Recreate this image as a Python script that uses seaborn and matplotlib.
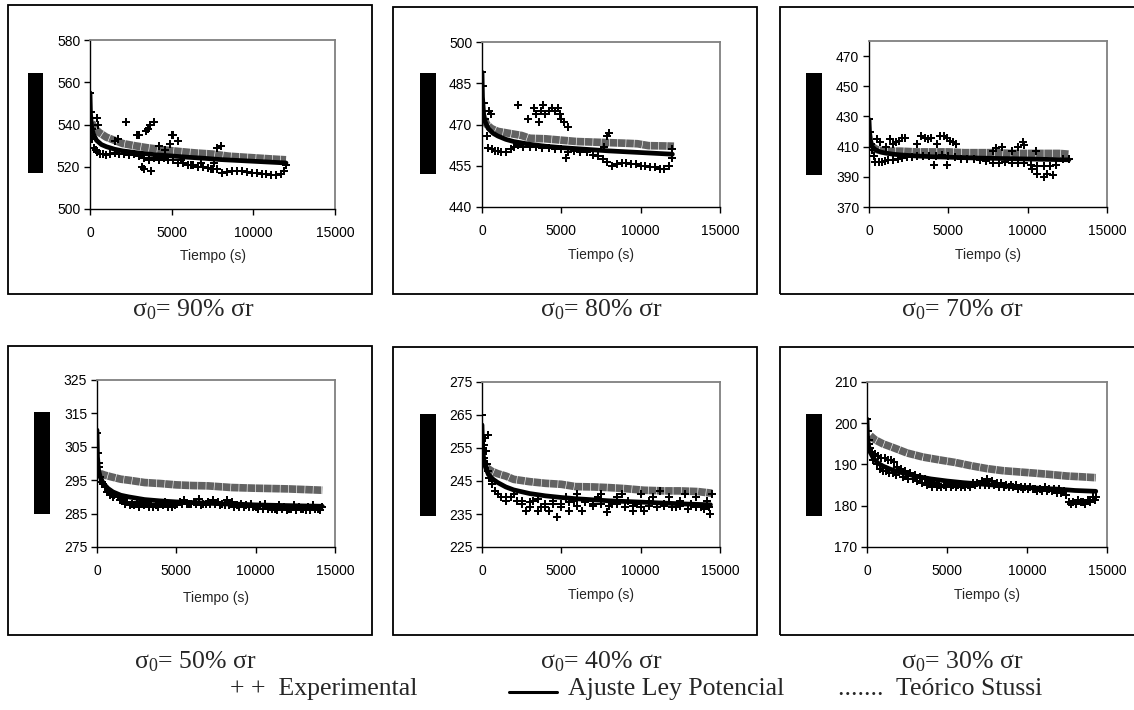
import matplotlib
matplotlib.use("Agg")
import matplotlib.pyplot as plt
from matplotlib.patches import Rectangle
from matplotlib.lines import Line2D
import seaborn as sns

# ---------------- data ----------------
captions = ["90%", "80%", "70%", "50%", "40%", "30%"]
x_ticks = [0, 5000, 10000, 15000]
y_limits = [(500, 580), (440, 500), (370, 480), (275, 325), (225, 275), (170, 210)]
y_ticks = [
    [500, 520, 540, 560, 580],
    [440, 455, 470, 485, 500],
    [370, 390, 410, 430, 450, 470],
    [275, 285, 295, 305, 315, 325],
    [225, 235, 245, 255, 265, 275],
    [170, 180, 190, 200, 210],
]

# --- 90% ---
t_fit_90 = [0, 30, 100, 200, 400, 700, 1000, 1500, 2000, 3000, 4000, 5000, 6000, 7000, 8000, 9000, 10000, 11000, 12000]
y_fit_90 = [555, 545, 539, 535.5, 532.5, 530.5, 529.5, 528.3, 527.5, 526.5, 525.7, 525.1, 524.5, 524, 523.4, 523, 522.6, 522.2, 521.8]
t_teo_90 = [100, 300, 600, 1000, 1500, 2000, 2700, 3500, 4500, 5500, 6500, 7500, 8500, 9500, 10500, 11500, 12000]
y_teo_90 = [541, 538, 536, 534, 532.5, 531, 530, 529, 528, 527.2, 526.5, 526, 525, 524.5, 524, 523.5, 523.3]
t_exp_90 = [0, 50, 100, 150, 250, 350, 450, 600, 800, 1000, 1200, 1500, 1800, 2100, 2400, 2700, 3000, 3300, 3600, 3900,
            4200, 4500, 4800, 5100, 5400, 5700, 6000, 6300, 6600, 6900, 7200, 7500, 7800, 8100, 8400, 8700, 9000, 9300,
            9600, 9900, 10200, 10500, 10800, 11100, 11400, 11700, 11900, 12000,
            400, 500, 1500, 1700, 2200, 2900, 3000, 3200, 3300, 3450, 3550, 3650, 3750, 3900, 4200, 4600, 4900, 5000,
            5100, 5400, 7400, 7600, 7800, 8000, 5600, 6200, 6800]
y_exp_90 = [555, 546, 538, 533, 529, 528, 527, 526, 526, 525.5, 526, 526.5, 526, 526, 525.5, 526, 525, 524, 523, 524,
            523, 524, 523, 523, 522, 522, 521, 521, 520, 520, 519.5, 519, 519, 517, 517.5, 518, 518, 518,
            517.5, 517, 517, 516.5, 516.5, 516, 516, 516.5, 518, 521,
            543, 540, 532, 533, 541, 535, 535, 520, 519, 537, 538, 540, 518, 541, 530, 528, 531, 535,
            535, 532, 519, 522, 529, 530, 523, 521, 522]

# --- 80% ---
t_fit_80 = [0, 30, 100, 200, 400, 700, 1000, 1500, 2000, 3000, 4000, 5000, 6000, 7000, 8000, 9000, 10000, 11000, 12000]
y_fit_80 = [489, 480, 474, 471, 468.5, 466.8, 465.8, 464.6, 463.8, 462.8, 462.1, 461.6, 461.2, 460.8, 460.4, 460.1, 459.8, 459.5, 459.2]
t_teo_80 = [150, 300, 600, 1000, 1500, 2000, 2500, 3000, 4000, 5000, 6000, 7000, 8000, 9000, 9800, 10500, 11500, 12100]
y_teo_80 = [472, 470, 468.5, 467.5, 467, 466.5, 466, 465, 464.8, 464.3, 463.8, 463.6, 463.4, 463.2, 463, 462.3, 462.2, 462.1]
t_exp_80 = [0, 50, 100, 200, 300, 400, 600, 800, 1000, 1200, 1500, 1800, 2000, 2300, 2600, 3000, 3400, 3800, 4200,
            4600, 5000, 5400, 5800, 6200, 6600, 7000, 7300, 7600, 7900, 8200, 8500, 8800, 9100, 9400, 9700, 10000,
            10300, 10600, 10900, 11200, 11500, 11800, 12000,
            450, 550, 2300, 2900, 3300, 3400, 3600, 3700, 3850, 4000, 4200, 4400, 4600, 4800, 4900, 5000, 5150,
            5400, 5300, 7850, 8000, 7700, 12000]
y_exp_80 = [489, 484, 478, 472, 466, 461.5, 461, 460.5, 460.5, 460, 460, 461, 462, 462.5, 462, 462, 462, 461.5, 461.5,
            461, 461, 460, 460.5, 460, 460, 459, 458.5, 457.5, 456.5, 455, 455.5, 456, 456, 455.5, 455.5, 455,
            455, 454.5, 454.5, 454, 454, 455, 458,
            475, 474, 477, 472, 476, 474, 471, 475, 477, 474, 475, 476, 475, 476, 474, 472, 471,
            469, 458, 466, 467, 462, 461]

# --- 70% ---
t_fit_70 = [0, 30, 100, 200, 400, 700, 1000, 1500, 2000, 3000, 4000, 5000, 6000, 7000, 8000, 9000, 10000, 11000, 12000, 12600]
y_fit_70 = [428, 420, 414, 410, 408, 406.5, 405.8, 405, 404.5, 403.8, 403.3, 403, 402.7, 402.4, 402.2, 402, 401.8, 401.6, 401.4, 401.3]
t_teo_70 = [200, 500, 1000, 2000, 3000, 4000, 5000, 6000, 7000, 8000, 9000, 10000, 11000, 12000, 12600]
y_teo_70 = [410, 408, 407, 407, 406.5, 406.5, 406.5, 406, 406, 406, 405.5, 405.5, 405.5, 405.5, 405]
t_exp_70 = [0, 50, 100, 200, 300, 400, 600, 800, 1000, 1200, 1500, 1800, 2100, 2400, 2700, 3000, 3400, 3800, 4200,
            4600, 5000, 5400, 5800, 6200, 6600, 7000, 7400, 7800, 8200, 8600, 9000, 9400, 9800, 10200, 10600,
            11000, 11400, 11800, 12200, 12600,
            500, 700, 1100, 1300, 1500, 1700, 1900, 2100, 2300, 3000, 3300, 3500, 3700, 3900, 4100, 4300, 4500,
            4700, 4900, 5100, 5300, 4900, 5500, 7800, 8000, 8400, 9000, 9400, 9700, 9800, 10600, 11000, 11200,
            11600, 10300, 10500]
y_exp_70 = [428, 420, 412, 408, 404, 400, 400, 400, 400.5, 401, 401, 402, 402.5, 403, 403, 403.5, 404, 404, 404,
            404.5, 404, 403, 402, 402, 401.5, 401, 400.5, 399, 399, 399.5, 399, 399, 399, 398, 397,
            397, 397.5, 398, 402, 402,
            415, 413, 410, 415, 412, 413, 414, 416, 416, 412, 417, 416, 415, 416, 398, 412, 417,
            417, 416, 414, 413, 398, 412, 407, 409, 410, 407, 410, 413, 411, 392, 390, 392,
            391, 395, 407]

# --- 50% ---
t_fit_50 = [0, 30, 100, 200, 400, 700, 1000, 1500, 2000, 3000, 4000, 5000, 6000, 7000, 8000, 9000, 10000, 11000, 12000, 13000, 14200]
y_fit_50 = [310, 302, 298, 296, 294, 292.5, 291.5, 290.5, 290, 289.2, 288.8, 288.5, 288.3, 288.1, 287.9, 287.8, 287.6, 287.5, 287.4, 287.3, 287.2]
t_teo_50 = [200, 500, 900, 1500, 2000, 3000, 4000, 5000, 6000, 7000, 8500, 10000, 12000, 14200]
y_teo_50 = [297, 296.5, 296, 295.3, 295, 294.3, 294, 293.6, 293.4, 293.3, 292.8, 292.6, 292.4, 292]
t_exp_50 = [0, 50, 100, 200, 300, 500, 700, 900, 1100, 1300, 1600, 1900, 2200, 2500, 2800, 3100, 3400, 3700, 4000,
            4300, 4600, 4900, 5200, 5500, 5800, 6100, 6400, 6700, 7000, 7300, 7600, 7900, 8200, 8500, 8800, 9100,
            9400, 9700, 10000, 10300, 10600, 10900, 11200, 11500, 11800, 12100, 12400, 12700, 13000, 13300, 13600,
            13900, 14200,
            150, 400, 600, 800, 1000, 1450, 1750, 2050, 2350, 2650, 2950, 3250, 3550, 3850, 4150, 4450, 4750, 5050,
            5350, 5650, 5950, 6250, 6550, 6850, 7150, 7450, 7750, 8050, 8350, 8650, 8950, 9250, 9550, 9850, 10150,
            10450, 10750, 11050, 11350, 11650, 11950, 12250, 12550, 12850, 13150, 13450, 13750, 14050]
y_exp_50 = [309, 303, 299, 296, 294.5, 293, 292, 291, 290.5, 290, 289.5, 288.5, 288, 288.5, 288, 288.5, 288, 287.5, 288,
            288.5, 288, 287.5, 288.5, 289, 288, 288.5, 289.5, 288, 288.5, 289, 288.5, 288, 289, 288.5, 287.5, 288,
            287.5, 288, 287, 287.5, 288, 287, 286.5, 287.5, 287, 286.5, 287.5, 287, 286.5, 287, 287.5,
            286.5, 287,
            300, 294, 291.5, 290.5, 290, 289, 288, 287.5, 287.5, 287, 287.5, 287, 287, 287, 287.5, 287, 287, 288,
            288, 288, 288, 288, 287.5, 288, 288, 288, 287.5, 287.5, 287.5, 287, 287, 287, 287, 287, 286.5,
            286.5, 286.5, 286.5, 286, 286.5, 286, 286.5, 286, 286.5, 286, 286, 286.5, 286]

# --- 40% ---
t_fit_40 = [0, 30, 100, 200, 400, 700, 1000, 1500, 2000, 3000, 4000, 5000, 6000, 7000, 8000, 9000, 10000, 11000, 12000, 13000, 14400]
y_fit_40 = [262, 256, 252, 249.5, 247, 245.5, 244.5, 243.2, 242.3, 241.2, 240.5, 240, 239.6, 239.3, 239, 238.8, 238.6, 238.4, 238.2, 238, 237.8]
t_teo_40 = [300, 600, 1000, 1500, 2000, 3000, 4000, 5000, 5900, 7000, 8000, 9000, 10200, 11500, 12500, 13600, 14500]
y_teo_40 = [249, 248, 247.2, 246.5, 245.5, 244.8, 244.3, 244, 243.3, 243.2, 243, 242.7, 242.2, 242, 242, 241.8, 241.3]
t_exp_40 = [0, 30, 60, 100, 150, 200, 300, 400, 500, 600, 800, 1000, 1200, 1500, 1800, 2000, 2200, 2500, 2800, 3000,
            3200, 3500, 3700, 4000, 4200, 4500, 4700, 5000, 5300, 5500, 5800, 6000, 6300, 6500, 7000, 7300, 7500,
            7900, 8200, 8500, 8800, 9200, 9500, 9800, 10000, 10200, 10500, 10800, 11200, 11500, 11800, 12200,
            12500, 12800, 13200, 13500, 13800, 14200, 14400, 14500,
            3000, 4000, 5000, 6000, 7000, 8000, 9000, 10000, 11000, 12000, 13000, 14000, 2500, 1500,
            3500, 4500, 5500, 6500, 7500, 8500, 9500, 10500, 11500, 12500, 13500, 14300, 250, 350, 450]
y_exp_40 = [265, 258, 255, 252, 256, 258, 250, 259, 246, 244, 242, 241, 240, 239, 240, 241, 239, 238, 236, 237,
            239, 236, 237, 237, 236, 238, 234, 237, 240, 236, 239, 241, 236, 239, 238, 240, 241,
            235.5, 238, 240, 241, 239, 236, 238, 241, 236, 239, 240, 242, 238, 240, 237,
            239, 241, 238, 240, 237, 239, 235, 241,
            238.5, 238, 238, 237.5, 237.5, 237.5, 237, 237, 237, 237, 236.5, 236.5, 239, 240,
            239.5, 239, 238.5, 238.5, 238, 238, 237.5, 237.5, 237.5, 237.5, 237, 237, 254, 248, 246]

# --- 30% ---
t_fit_30 = [0, 30, 100, 200, 400, 700, 1000, 1500, 2000, 3000, 4000, 5000, 6000, 7000, 8000, 9000, 10000, 11000, 12000, 13000, 14300]
y_fit_30 = [201, 197, 194.5, 193, 191.5, 190.3, 189.6, 188.8, 188.2, 187.2, 186.5, 186, 185.6, 185.3, 185, 184.7, 184.4, 184.2, 184, 183.7, 183.5]
t_teo_30 = [200, 500, 1000, 1700, 2500, 3500, 4700, 5500, 6500, 7500, 8500, 9500, 10500, 11400, 12500, 13500, 14300]
y_teo_30 = [197, 196, 195, 194, 192.8, 191.8, 191, 190.5, 189.7, 189, 188.5, 188.2, 187.9, 187.6, 187.2, 187, 186.8]
t_exp_30 = [0, 50, 100, 200, 300, 500, 700, 900, 1100, 1300, 1500, 1700, 1900, 2100, 2400, 2700, 3000, 3300, 3600,
            3900, 4200, 4500, 4800, 5100, 5400, 5700, 6000, 6300, 6600, 6900, 7200, 7500, 7800, 8100, 8400, 8700,
            9000, 9300, 9600, 9900, 10200, 10500, 10800, 11100, 11400, 11700, 12000, 12300, 12600, 12900, 13200,
            13500, 13800, 14100, 14300,
            150, 400, 600, 800, 1000, 1200, 1400, 1600, 1800, 2250, 2550, 2850, 3150, 3450, 3750, 4050, 4350, 4650,
            4950, 5250, 5550, 5850, 6150, 6450, 6750, 7050, 7350, 7650, 7950, 8250, 8550, 8850, 9150, 9450, 9750,
            10050, 10350, 10650, 10950, 11250, 11550, 11850, 12150, 12450, 12750, 13050, 13350, 13650, 13950, 14250]
y_exp_30 = [201, 198, 196, 194, 193, 192.5, 192, 191.5, 191.5, 191, 191, 190.5, 189.5, 189, 188.5, 188, 187.5, 187, 186.5,
            186, 185.5, 185, 185, 185.5, 185, 185, 185, 185, 185.5, 185.5, 186, 186.5, 186, 185.5, 185.5, 185,
            185, 185, 184.5, 184.5, 184.5, 184, 184, 184.5, 184, 184, 184, 183.5, 181, 181, 181.5,
            181, 181.5, 182, 182,
            195, 191, 190, 189, 188.5, 188.5, 188, 188, 187.5, 187, 186.5, 186.5, 186, 185.5, 185, 184.5, 184.5, 184.5,
            184.5, 184.5, 184.5, 184.5, 184.5, 184.5, 185, 185, 185, 185, 185, 184.5, 184.5, 184.5, 184.5, 184, 184,
            184, 184, 183.5, 183.5, 183.5, 183.5, 183, 183, 182.5, 180.5, 180.5, 181, 180.5, 181, 181.5]

series = [
    (t_exp_90, y_exp_90, t_fit_90, y_fit_90, t_teo_90, y_teo_90),
    (t_exp_80, y_exp_80, t_fit_80, y_fit_80, t_teo_80, y_teo_80),
    (t_exp_70, y_exp_70, t_fit_70, y_fit_70, t_teo_70, y_teo_70),
    (t_exp_50, y_exp_50, t_fit_50, y_fit_50, t_teo_50, y_teo_50),
    (t_exp_40, y_exp_40, t_fit_40, y_fit_40, t_teo_40, y_teo_40),
    (t_exp_30, y_exp_30, t_fit_30, y_fit_30, t_teo_30, y_teo_30),
]

# ---------------- style ----------------
sns.set_theme(style="white")
plt.rcParams["font.family"] = ["Liberation Sans", "DejaVu Sans"]
plt.rcParams["mathtext.fontset"] = "custom"
plt.rcParams["mathtext.rm"] = "Liberation Serif"
plt.rcParams["mathtext.it"] = "Liberation Serif:italic"

W, H = 1134, 710
fig = plt.figure(figsize=(W / 100, H / 100), dpi=100)


def fx(px):
    return px / W


def fy(py):
    return 1 - py / H


SERIF = ["Liberation Serif", "DejaVu Serif"]

# axes pixel boxes (left, top, right, bottom)
ax_px = [(90, 40, 335, 209), (482, 42, 720, 207), (869, 41, 1107, 207),
         (97, 380, 335, 547), (482, 382, 720, 547), (867, 382, 1107, 547)]
box_px = [(8, 5, 372, 294), (393, 7, 757, 294), (780, 7, 1145, 294),
          (8, 346, 372, 635), (393, 347, 757, 635), (780, 347, 1145, 635)]
bar_px = [(28, 73, 43, 173), (420, 73, 436, 174), (806, 73, 822, 175),
          (34, 412, 50, 514), (420, 414, 436, 516), (806, 414, 822, 516)]
caption_xy = [(193, 310), (601, 310), (962, 310), (195, 662), (601, 662), (962, 662)]
xlabel_pads = [6, 7, 7, 9, 7, 7]

for (l, t, r, b) in box_px:
    fig.patches.append(Rectangle((fx(l), fy(b)), fx(r - l), (b - t) / H, transform=fig.transFigure,
                                 fill=False, edgecolor="black", linewidth=1.3, zorder=0))
for (l, t, r, b) in bar_px:
    fig.patches.append(Rectangle((fx(l), fy(b)), fx(r - l), (b - t) / H, transform=fig.transFigure,
                                 facecolor="black", edgecolor="black", linewidth=0, zorder=1))

for i, (l, t, r, b) in enumerate(ax_px):
    ax = fig.add_axes([fx(l), fy(b), fx(r - l), (b - t) / H])
    te, ye, tf, yf, tt, yt = series[i]
    sns.lineplot(x=tt, y=yt, ax=ax, color="#626262", linewidth=5.5, estimator=None, sort=False,
                 linestyle=(0, (1.0, 0.08)), zorder=2)
    sns.lineplot(x=tf, y=yf, ax=ax, color="black", linewidth=3.4, estimator=None, sort=False, zorder=3)
    sns.scatterplot(x=te, y=ye, ax=ax, marker="P", s=30, color="black", linewidth=0, zorder=4)
    ax.set_xlim(0, 15000)
    ax.set_ylim(*y_limits[i])
    ax.set_xticks(x_ticks)
    ax.set_yticks(y_ticks[i])
    ax.set_xticklabels([str(v) for v in x_ticks])
    ax.set_yticklabels([str(v) for v in y_ticks[i]])
    ax.set_xlabel("Tiempo (s)", fontsize=10, labelpad=xlabel_pads[i])
    ax.set_ylabel("")
    ax.tick_params(axis="x", direction="out", length=4, width=1, pad=8.5, labelsize=10, bottom=True, colors="black")
    ax.tick_params(axis="y", direction="out", length=4, width=1, pad=3, labelsize=10, left=True, colors="black")
    for s in ["left", "bottom"]:
        ax.spines[s].set_color("black")
        ax.spines[s].set_linewidth(1.0)
    for s in ["top", "right"]:
        ax.spines[s].set_color("#808080")
        ax.spines[s].set_linewidth(1.3)
    ax.set_facecolor("white")
    cx, cy = caption_xy[i]
    fig.text(fx(cx), fy(cy), "σ$_\\mathrm{0}$= " + captions[i] + " σr", ha="center", va="center",
             fontsize=18.5, family=SERIF)

# legend line (text)
leg_y = fy(689)
fig.text(fx(230), leg_y, "+ +  Experimental", ha="left", va="center", fontsize=18.5, family=SERIF)
fig.lines.append(Line2D([fx(509), fx(557)], [fy(692), fy(692)], transform=fig.transFigure,
                        color="black", linewidth=2.2))
fig.text(fx(568), leg_y, "Ajuste Ley Potencial", ha="left", va="center", fontsize=18.5, family=SERIF)
fig.text(fx(838), leg_y, ".......  Teórico Stussi", ha="left", va="center", fontsize=18.5, family=SERIF)

fig.savefig("out.png", dpi=100, facecolor="white")
